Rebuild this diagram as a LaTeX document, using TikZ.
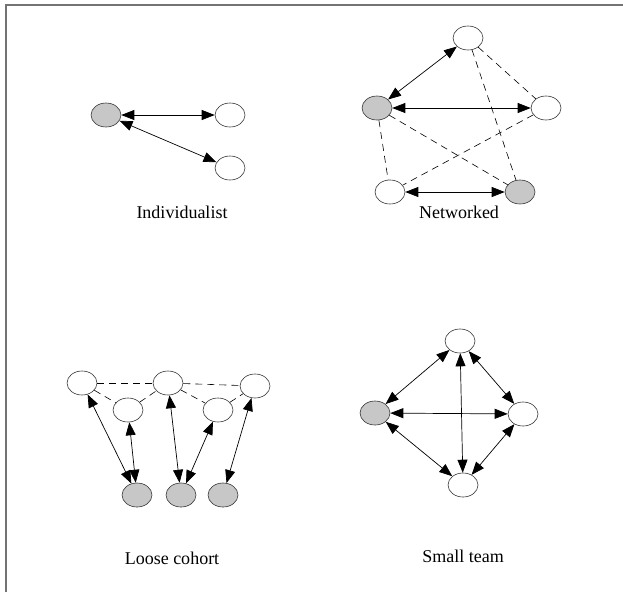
\documentclass[tikz,border=0pt]{standalone}
\usepackage{fontspec}
\setmainfont{Liberation Serif}
\usetikzlibrary{shapes.geometric,arrows.meta}
\begin{document}
\begin{tikzpicture}[x=1pt,y=-1pt,
  person/.style={ellipse,draw=black!80,line width=0.6pt,fill=white,
    minimum width=30pt,minimum height=24pt,inner sep=0pt},
  lead/.style={person,fill=black!22},
  tie/.style={line width=0.7pt,{Triangle[length=13pt,width=10pt]}-{Triangle[length=13pt,width=10pt]}},
  weak/.style={line width=0.6pt,dash pattern=on 7pt off 5pt},
  caption/.style={font=\fontsize{18}{21}\selectfont}]
\useasboundingbox (0,0) rectangle (623,592);
% frame
\draw[black!55,line width=1.4pt] (6,592) -- (6,5) -- (623,5);

% Individualist
\node[lead]   (ia) at (106,115) {};
\node[person] (ib) at (230,115) {};
\node[person] (ic) at (230,168) {};
\draw[tie] (ia) -- (ib);
\draw[tie] (ia) -- (ic);
\node[caption] (lind) at (182,212) {Individualist};

% Networked
\node[person] (nt) at (468,38) {};
\node[lead]   (nl) at (377,108) {};
\node[person] (nr) at (546,108) {};
\node[person] (nbl) at (390,192) {};
\node[lead]   (nbr) at (520,192) {};
\draw[weak] (nt) -- (nr);
\draw[weak] (nt) -- (nbr);
\draw[weak] (nl) -- (nbl);
\draw[weak] (nl) -- (nbr);
\draw[weak] (nr) -- (nbl);
\draw[tie] (nt) -- (nl);
\draw[tie] (nl) -- (nr);
\draw[tie] (nbl) -- (nbr);
\node[caption] (lnet) at (459,212) {Networked};

% Loose cohort
\node[person] (c1) at (82,383) {};
\node[person] (c2) at (168,383) {};
\node[person] (c3) at (255,386) {};
\node[person] (m1) at (128,410) {};
\node[person] (m2) at (218,410) {};
\node[lead]   (g1) at (137,495) {};
\node[lead]   (g2) at (181,495) {};
\node[lead]   (g3) at (223,495) {};
\draw[weak] (c1) -- (c2);
\draw[weak] (c2) -- (c3);
\draw[weak] (c1) -- (m1);
\draw[weak] (m1) -- (c2);
\draw[weak] (c2) -- (m2);
\draw[weak] (m2) -- (c3);
\draw[tie] (c1) -- (g1);
\draw[tie] (m1) -- (g1);
\draw[tie] (c2) -- (g2);
\draw[tie] (m2) -- (g2);
\draw[tie] (c3) -- (g3);
\node[caption] (lcoh) at (172,558) {Loose cohort};

% Small team
\node[person] (st) at (460,341) {};
\node[lead]   (sl) at (375,413) {};
\node[person] (sr) at (523,414) {};
\node[person] (sb) at (463,485) {};
\draw[tie] (st) -- (sl);
\draw[tie] (st) -- (sr);
\draw[tie] (st) -- (sb);
\draw[tie] (sl) -- (sr);
\draw[tie] (sl) -- (sb);
\draw[tie] (sr) -- (sb);
\node[caption] (lsmall) at (463,556) {Small team};
\end{tikzpicture}
\end{document}
